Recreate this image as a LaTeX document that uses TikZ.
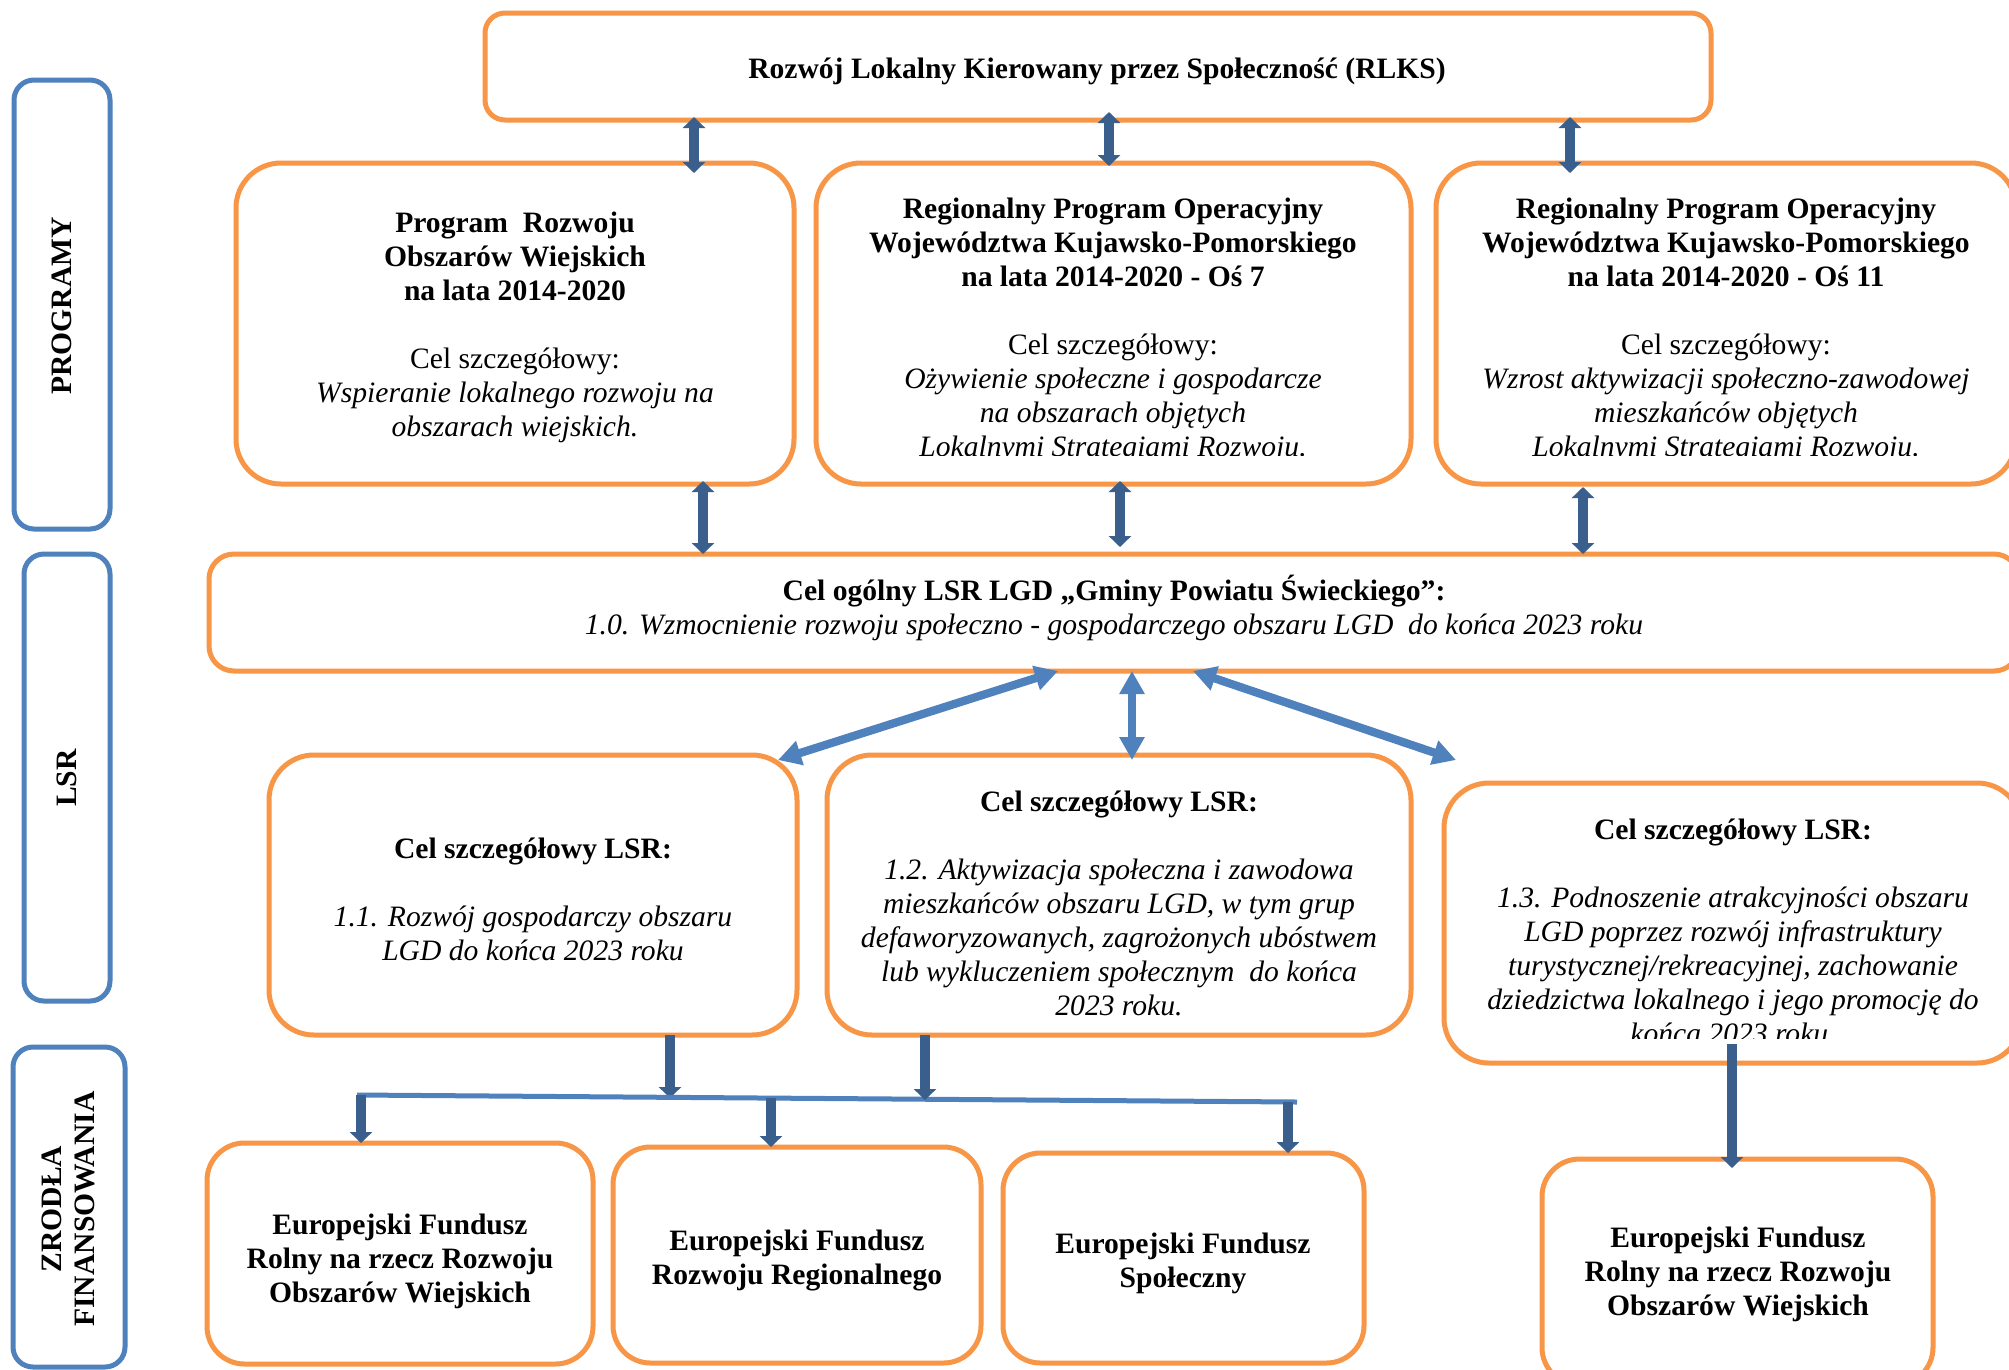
\documentclass[tikz,border=0pt]{standalone}
\usepackage{fontspec}
\setmainfont{Liberation Serif}
\usetikzlibrary{arrows.meta,fit}
\definecolor{orng}{HTML}{F79646}
\definecolor{lblue}{HTML}{4F81BD}
\definecolor{dblue}{HTML}{3A5F8D}
\tikzset{
  ob/.style={draw=orng, line width=2pt, rounded corners=18pt, inner sep=0pt, outer sep=0pt},
  obs/.style={ob, rounded corners=8pt},
  obm/.style={ob, rounded corners=10pt},
  obb/.style={ob, rounded corners=15pt},
  bb/.style={draw=lblue, line width=2pt, rounded corners=8pt, inner sep=0pt, outer sep=0pt},
  txt/.style={align=center, font=\fontsize{11.84pt}{13.6pt}\selectfont, inner sep=0pt},
  lbl/.style={align=center, font=\fontsize{11.84pt}{13.2pt}\selectfont\bfseries, inner sep=0pt, rotate=90},
  darr/.style={draw=dblue, line width=4pt, {Triangle[width=8.8pt,length=4.4pt]}-{Triangle[width=8.8pt,length=4.4pt]}},
  dto/.style={draw=dblue, line width=4pt, -{Triangle[width=8.8pt,length=4.4pt]}},
  larr/.style={draw=lblue, line width=3.3pt, {Triangle[width=9.6pt,length=9.2pt]}-{Triangle[width=9.6pt,length=9.2pt]}},
  busline/.style={draw=lblue, line width=2pt},
}
\begin{document}
\begin{tikzpicture}[x=0.4pt,y=-0.4pt]
\useasboundingbox (0,0) rectangle (2009,1369);
\fill[white] (0,0) rectangle (2009,1369);
\clip (0,0) rectangle (2009,1369);

% left category boxes
\node[bb, fit={(14,80) (110,529)}] (bP) {};
\node[bb, fit={(24,554) (110,1001)}] (bL) {};
\node[bb, fit={(13,1047) (125,1367)}] (bZ) {};
\node[lbl] (lP) at (62,306) {PROGRAMY};
\node[lbl] (lL) at (67,778) {LSR};
\node[lbl] (lZ) at (68,1209) {ZRODŁA\\FINANSOWANIA};

% top box
\node[obs, fit={(485,13) (1711,120)}] (rlks) {};
\node[txt] (trlks) at (1097,71) {\textbf{Rozwój Lokalny Kierowany przez Społeczność (RLKS)}};

% programmes
\node[ob, fit={(236,163) (794,484)}] (pA) {};
\node[ob, fit={(816,163) (1411,484)}] (pB) {};
\node[ob, fit={(1436,163) (2016,484)}] (pC) {};
\node[txt] (tA) at (515,327) {\textbf{Program\ \ Rozwoju}\\
  \textbf{Obszarów Wiejskich}\\
  \textbf{na lata 2014-2020}\\[13.6pt]
  Cel szczegółowy:\\
  \textit{Wspieranie lokalnego rozwoju na}\\
  \textit{obszarach wiejskich.}};
\begin{scope}
\clip (816,150) rectangle (2016,455);
\node[txt] (tB) at (1113,330) {\textbf{Regionalny Program Operacyjny}\\
  \textbf{Województwa Kujawsko-Pomorskiego}\\
  \textbf{na lata 2014-2020 - Oś 7}\\[13.6pt]
  Cel szczegółowy:\\
  \textit{Ożywienie społeczne i gospodarcze}\\
  \textit{na obszarach objętych}\\
  \textit{Lokalnymi Strategiami Rozwoju.}};
\node[txt] (tC) at (1726,330) {\textbf{Regionalny Program Operacyjny}\\
  \textbf{Województwa Kujawsko-Pomorskiego}\\
  \textbf{na lata 2014-2020 - Oś 11}\\[13.6pt]
  Cel szczegółowy:\\
  \textit{Wzrost aktywizacji społeczno-zawodowej}\\
  \textit{mieszkańców objętych}\\
  \textit{Lokalnymi Strategiami Rozwoju.}};
\end{scope}

% general objective
\node[obm, fit={(209,554) (2019,671)}] (cel) {};
\node[txt] (tcel) at (1114,608) {\textbf{Cel ogólny LSR LGD „Gminy Powiatu Świeckiego”:}\\
  \textit{1.0. Wzmocnienie rozwoju społeczno - gospodarczego obszaru LGD\ \ do końca 2023 roku}};

% specific objectives
\node[ob, fit={(269,755) (797,1035)}] (pD) {};
\node[ob, fit={(827,755) (1411,1035)}] (pE) {};
\node[ob, fit={(1444,783) (2022,1063)}] (pF) {};
\node[txt] (tD) at (533,899) {\textbf{Cel szczegółowy LSR:}\\[13.6pt]
  \textit{1.1. Rozwój gospodarczy obszaru}\\
  \textit{LGD do końca 2023 roku}};
\node[txt] (tE) at (1119,903) {\textbf{Cel szczegółowy LSR:}\\[13.6pt]
  \textit{1.2. Aktywizacja społeczna i zawodowa}\\
  \textit{mieszkańców obszaru LGD, w tym grup}\\
  \textit{defaworyzowanych, zagrożonych ubóstwem}\\
  \textit{lub wykluczeniem społecznym\ \ do końca}\\
  \textit{2023 roku.}};
\begin{scope}
\clip (1444,770) rectangle (2022,1038);
\node[txt] (tF) at (1733,931) {\textbf{Cel szczegółowy LSR:}\\[13.6pt]
  \textit{1.3. Podnoszenie atrakcyjności obszaru}\\
  \textit{LGD poprzez rozwój infrastruktury}\\
  \textit{turystycznej/rekreacyjnej, zachowanie}\\
  \textit{dziedzictwa lokalnego i jego promocję do}\\
  \textit{końca 2023 roku.}};
\end{scope}

% funds
\node[obb, fit={(207,1143) (593,1364)}] (pG) {};
\node[obb, fit={(613,1147) (981,1363)}] (pH) {};
\node[obb, fit={(1003,1153) (1364,1363)}] (pI) {};
\node[obb, fit={(1542,1159) (1933,1385)}] (pJ) {};
\node[txt, font=\fontsize{11.84pt}{13.6pt}\selectfont\bfseries] (tG) at (400,1261) {Europejski Fundusz\\Rolny na rzecz Rozwoju\\Obszarów Wiejskich};
\node[txt, font=\fontsize{11.84pt}{13.6pt}\selectfont\bfseries] (tH) at (797,1260) {Europejski Fundusz\\Rozwoju Regionalnego};
\node[txt, font=\fontsize{11.84pt}{13.6pt}\selectfont\bfseries] (tI) at (1183,1263) {Europejski Fundusz\\Społeczny};
\node[txt, font=\fontsize{11.84pt}{13.6pt}\selectfont\bfseries] (tJ) at (1738,1274) {Europejski Fundusz\\Rolny na rzecz Rozwoju\\Obszarów Wiejskich};

% arrows top -> programmes
\draw[darr, shorten <=-1.2pt, shorten >=-4pt] (694,0 |- rlks.south) -- (694,0 |- pA.north);
\draw[darr, shorten <=-3.2pt, shorten >=-1.2pt] (1109,0 |- rlks.south) -- (1109,0 |- pB.north);
\draw[darr, shorten <=-1.2pt, shorten >=-4pt] (1570,0 |- rlks.south) -- (1570,0 |- pC.north);
% programmes -> general objective
\draw[darr, shorten <=-1.2pt] (703,0 |- pA.south) -- (703,0 |- cel.north);
\draw[darr, shorten <=-1.2pt, shorten >=2.8pt] (1120,0 |- pB.south) -- (1120,0 |- cel.north);
\draw[darr, shorten <=1.2pt] (1583,0 |- pC.south) -- (1583,0 |- cel.north);
% general objective -> specific objectives
\coordinate (tipD) at (778,760);
\coordinate (tipF) at (1456,760);
\draw[larr] (1058,0 |- cel.south) -- (tipD);
\draw[larr, shorten >=-2pt] (1132,0 |- cel.south) -- (1132,0 |- pE.north);
\draw[larr] (1193,0 |- cel.south) -- (tipF);

% bus to funds
\coordinate (busL) at (357,1095);
\coordinate (busR) at (1297,1102);
\coordinate (busD) at (670,1098);
\coordinate (busE) at (925,1100);
\coordinate (busG) at (361,1095);
\coordinate (busH) at (771,1098);
\coordinate (busI) at (1288,1102);
\draw[dto] (670,0 |- pD.south) -- (busD);
\draw[busline] (busL) -- (busR);
\draw[dto] (925,0 |- pE.south) -- (busE);
\draw[dto] (busG) -- (361,0 |- pG.north);
\draw[dto] (busH) -- (771,0 |- pH.north);
\draw[dto] (busI) -- (1288,0 |- pI.north);
\coordinate (fS) at (1732,1044);
\draw[dto, shorten >=-3.6pt] (fS) -- (1732,0 |- pJ.north);
\end{tikzpicture}
\end{document}
